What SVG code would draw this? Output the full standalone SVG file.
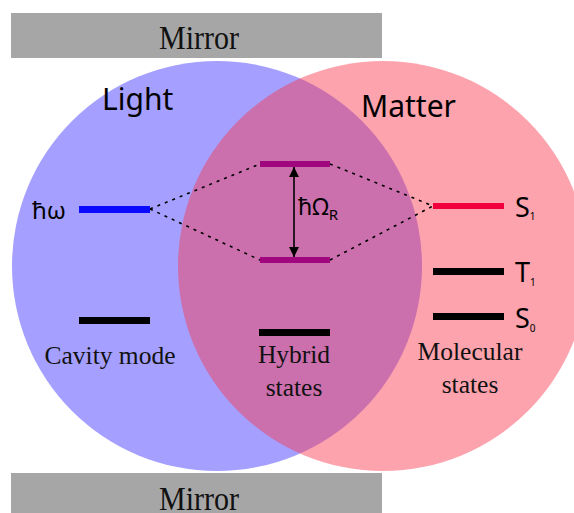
<svg xmlns="http://www.w3.org/2000/svg" width="574" height="513" viewBox="0 0 574 513">
<defs>
<style>
.serif{font-family:"Liberation Serif","Times New Roman",serif;fill:#111;}
.sans{font-family:"Noto Sans","Open Sans","DejaVu Sans",sans-serif;fill:#000;}
.mir{fill:#a6a6a6;}
.dash{stroke:#000;stroke-width:1.6;stroke-dasharray:3 5;fill:none;}
</style>
<marker id="ah" viewBox="0 0 10 10" refX="10" refY="5" markerWidth="10" markerHeight="10" markerUnits="userSpaceOnUse" orient="auto-start-reverse">
<path d="M0,0 L10,5 L0,10 z" fill="#000"/>
</marker>
</defs>
<rect width="574" height="513" fill="#fff"/>
<g id="mirror-top">
<rect class="mir" x="11" y="13" width="371" height="45"/>
<text class="serif" x="159" y="49" font-size="33" textLength="80" lengthAdjust="spacingAndGlyphs">Mirror</text>
</g>
<g id="mirror-bottom">
<rect class="mir" x="11" y="473" width="371" height="45"/>
<text class="serif" x="159" y="510" font-size="33" textLength="80" lengthAdjust="spacingAndGlyphs">Mirror</text>
</g>
<g id="light-circle">
<circle cx="217" cy="266" r="205" fill="#a5a0ff"/>
</g>
<g id="matter-circle">
<circle cx="383" cy="266" r="205" fill="#f8354b" fill-opacity="0.455"/>
</g>
<g id="labels">
<text class="sans" x="102" y="110" font-size="30">Light</text>
<text class="sans" x="361" y="117" font-size="30">Matter</text>
</g>
<g id="connectors">
<path class="dash" d="M150,209 L260,164"/>
<path class="dash" d="M150,209 L260,260"/>
<path class="dash" d="M330,164 L433,206"/>
<path class="dash" d="M330,260 L433,206"/>
<line x1="294" y1="167" x2="294" y2="257" stroke="#000" stroke-width="1.6" marker-start="url(#ah)" marker-end="url(#ah)"/>
</g>
<g id="cavity-excited">
<rect x="79" y="206" width="71" height="7" fill="#0a0aff"/>
<text class="sans" x="32" y="219" font-size="24">ħω</text>
</g>
<g id="cavity-ground">
<rect x="79" y="317" width="71" height="7" fill="#000"/>
<text class="serif" x="110" y="364" font-size="25.5" text-anchor="middle">Cavity mode</text>
</g>
<g id="hybrid-upper">
<rect x="260" y="161" width="70" height="6" fill="#a0077f"/>
</g>
<g id="hybrid-lower">
<rect x="260" y="257" width="70" height="6" fill="#a0077f"/>
</g>
<g id="rabi-label">
<text class="sans" x="298" y="215" font-size="23">ħΩ<tspan font-size="15" dy="5">R</tspan></text>
</g>
<g id="hybrid-ground">
<rect x="259" y="329" width="71" height="7" fill="#000"/>
<text class="serif" x="294" y="363" font-size="25.5" text-anchor="middle">Hybrid</text>
<text class="serif" x="294" y="396" font-size="25.5" text-anchor="middle">states</text>
</g>
<g id="S1">
<rect x="433" y="203" width="71" height="6" fill="#f2003c"/>
<text class="sans" x="515" y="217" font-size="27">S<tspan font-size="10" dy="3">1</tspan></text>
</g>
<g id="T1">
<rect x="433" y="268" width="71" height="7" fill="#000"/>
<text class="sans" x="515" y="282" font-size="27">T<tspan font-size="10" dy="4">1</tspan></text>
</g>
<g id="S0">
<rect x="433" y="313" width="71" height="7" fill="#000"/>
<text class="sans" x="515" y="328" font-size="27">S<tspan font-size="10" dy="4">0</tspan></text>
</g>
<g id="molecular-label">
<text class="serif" x="470" y="360" font-size="25.5" text-anchor="middle">Molecular</text>
<text class="serif" x="470" y="393" font-size="25.5" text-anchor="middle">states</text>
</g>
</svg>
